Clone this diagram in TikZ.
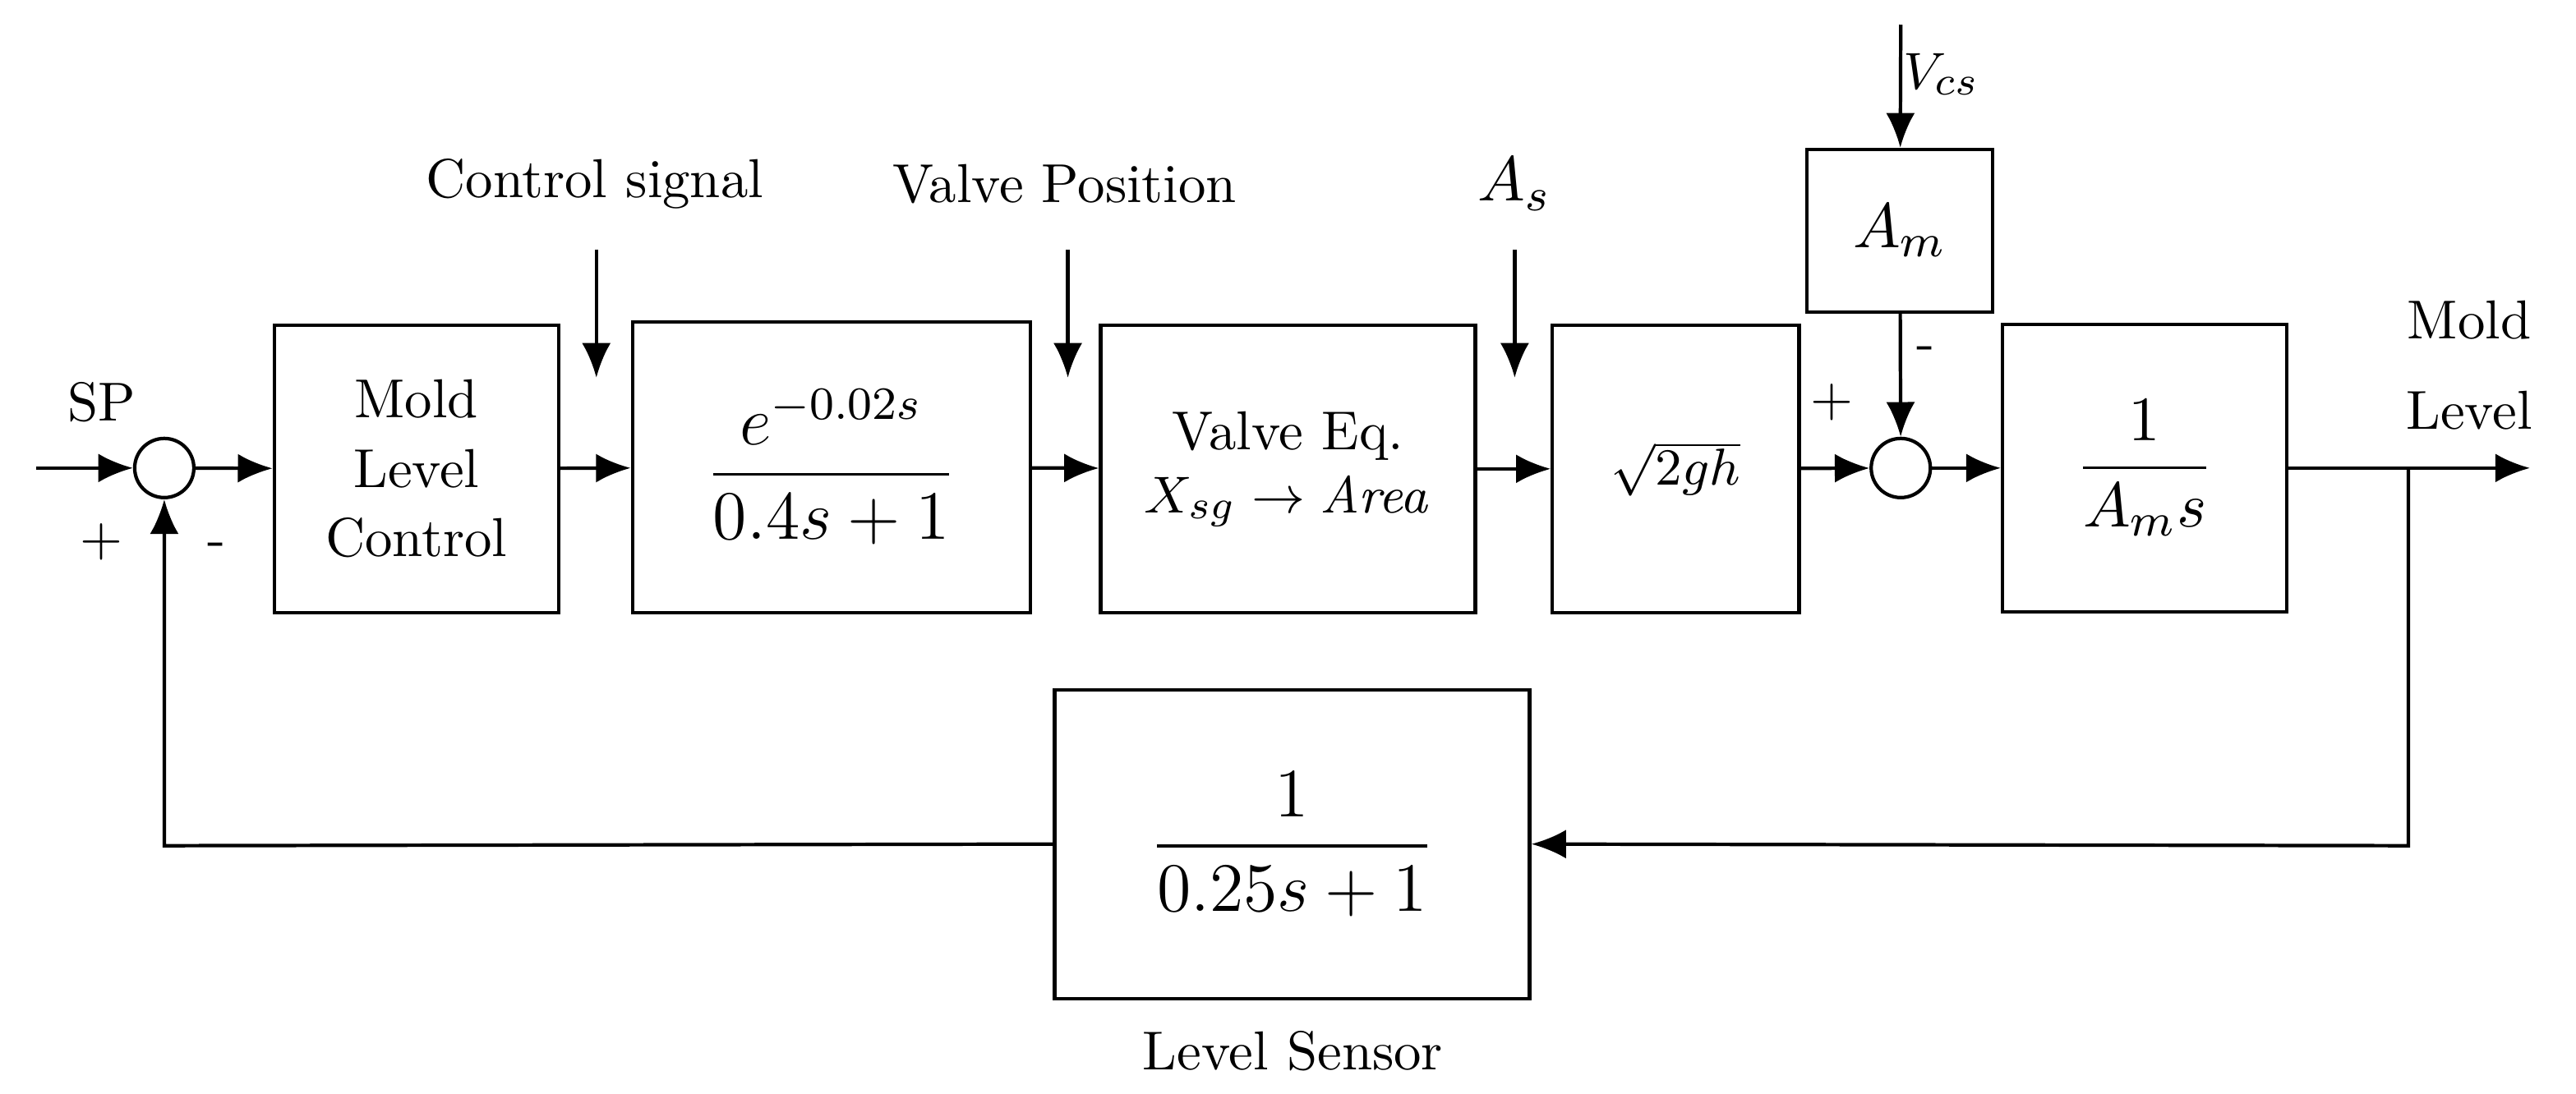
\documentclass[tikz,border=0pt]{standalone}
\usepackage{amsmath}
\usetikzlibrary{arrows.meta}
\begin{document}
\begin{tikzpicture}[x=0.01cm,y=-0.01cm,
  blk/.style={draw,line width=0.6pt,inner sep=0pt,align=center},
  sum/.style={draw,circle,line width=0.6pt,minimum size=0.36cm,inner sep=0pt},
  sig/.style={line width=0.6pt,-{Latex[length=6pt,width=5pt]}},
  lbl/.style={font=\fontsize{9.5}{11}\selectfont,inner sep=0pt}]
\useasboundingbox (0,0) rectangle (1568,666);
% blocks
\node[blk,minimum width=1.73cm,minimum height=1.75cm,font=\fontsize{9.5}{12}\selectfont] (b1) at (253.5,285.5) {Mold\\Level\\Control};
\node[blk,minimum width=2.42cm,minimum height=1.77cm] (b2) at (506,284.5) {\fontsize{12}{14}\selectfont$\dfrac{e^{-0.02s}}{0.4s+1}$};
\node[blk,minimum width=2.28cm,minimum height=1.75cm,font=\fontsize{9.5}{12}\selectfont] (b3) at (784,285.5) {Valve Eq.\\[-1pt]$X_{sg}\rightarrow \mathit{Area}$};
\node[blk,minimum width=1.50cm,minimum height=1.75cm] (b4) at (1020,285.5) {\fontsize{9.5}{11}\selectfont$\sqrt{2gh}$};
\node[blk,minimum width=1.13cm,minimum height=0.99cm] (am) at (1156.5,140.5) {\fontsize{11}{13}\selectfont$A_m$};
\node[blk,minimum width=1.73cm,minimum height=1.75cm] (b5) at (1305.5,285) {\fontsize{11}{13}\selectfont$\dfrac{1}{A_m s}$};
\node[blk,minimum width=2.89cm,minimum height=1.88cm] (fb) at (786.5,514) {\fontsize{12}{14}\selectfont$\dfrac{1}{0.25s+1}$};
% sums
\node[sum] (s1) at (100,285) {};
\node[sum] (s2) at (1157,285) {};
% coordinates
\coordinate (in) at (22,285);
\coordinate (out) at (1540,285);
\coordinate (tap) at (1466,285);
\coordinate (tapd) at (1466,515);
\coordinate (cl) at (100,515);
\coordinate (vcs) at (1157,15);
\coordinate (d1) at (363,152);
\coordinate (d2) at (650,152);
\coordinate (d3) at (922,152);
% forward path
\draw[sig] (in) -- (s1);
\draw[sig] (s1) -- (b1);
\draw[sig] (b1) -- (b2);
\draw[sig] (b2) -- (b3);
\draw[sig] (b3) -- (b4);
\draw[sig] (b4) -- (s2);
\draw[sig] (s2) -- (b5);
\draw[sig] (b5.east) -- (out);
\draw[sig] (vcs) -- (am);
\draw[sig] (am) -- (s2);
% disturbances
\draw[sig] (d1) -- (363,230);
\draw[sig] (d2) -- (650,230);
\draw[sig] (d3) -- (922,230);
% feedback
\draw[sig] (tap) -- (tapd) -- (fb.east);
\draw[sig] (fb.west) -- (cl) -- (s1);
% labels
\node[lbl] at (62,245) {SP};
\node[lbl] at (62,330) {+};
\node[lbl] at (132,335) {-};
\node[lbl] at (1115,245) {+};
\node[lbl] at (1172,215) {-};
\node[lbl] at (1182,45) {$V_{cs}$};
\node[lbl] at (362,112) {Control signal};
\node[lbl] at (648,112) {Valve Position};
\node[lbl] at (922,112) {\fontsize{11}{13}\selectfont$A_s$};
\node[lbl] at (1503,195) {Mold};
\node[lbl] at (1503,250) {Level};
\node[lbl] at (787,640) {Level Sensor};
\end{tikzpicture}
\end{document}
